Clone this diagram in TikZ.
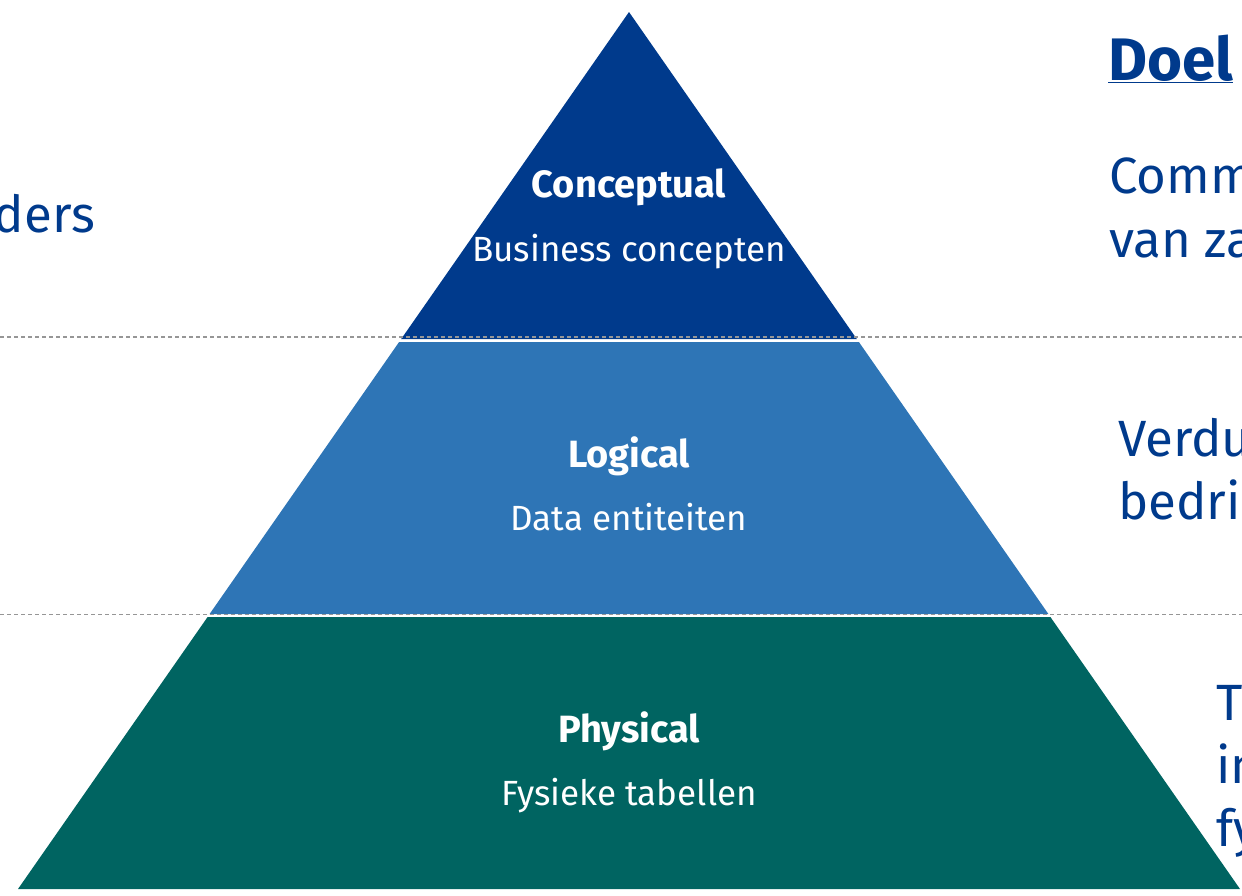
\documentclass[tikz,border=0pt]{standalone}
\usepackage{fontspec}
\setmainfont{Fira Sans}
\definecolor{conceptblue}{RGB}{0,58,140}
\definecolor{logicblue}{RGB}{46,117,182}
\definecolor{physgreen}{RGB}{0,100,97}
\definecolor{levelgray}{RGB}{150,150,150}
\begin{document}
\begin{tikzpicture}[x=1pt,y=-1pt,
	tier title/.style = {text=white, inner sep=0pt, anchor=base, font=\fontsize{38}{44}\selectfont\bfseries},
	tier sub/.style = {text=white, inner sep=0pt, anchor=base, font=\fontsize{35}{42}\selectfont},
	side text/.style = {text=conceptblue, inner sep=0pt, anchor=base west, font=\fontsize{51}{63}\selectfont},
	level line/.style = {levelgray, line width=1.2pt, dash pattern=on 4pt off 3pt}]
	
	\useasboundingbox (0,0) rectangle (1242,895);
	\clip (0,0) rectangle (1242,895);
	
	% pyramid
	\fill[conceptblue] (629,12) -- (856.8,339) -- (401.2,339) -- cycle;
	\fill[logicblue] (399.1,342) -- (858.9,342) -- (1048.4,614) -- (209.6,614) -- cycle;
	\fill[physgreen] (207.6,617) -- (1050.4,617) -- (1240,889) -- (18,889) -- cycle;
	
	% level lines
	\coordinate (l1a) at (0,337);
	\coordinate (l1b) at (1242,337);
	\coordinate (l2a) at (0,614.5);
	\coordinate (l2b) at (1242,614.5);
	\draw[level line] (l1a) -- (l1b);
	\draw[level line] (l2a) -- (l2b);
	
	\node[tier title] (concept) at (629,197) {Conceptual};
	\node[tier sub] (conceptsub) at (629,261) {Business concepten};
	\node[tier title] (logic) at (629,467) {Logical};
	\node[tier sub] (logicsub) at (629,530) {Data entiteiten};
	\node[tier title] (phys) at (629,742) {Physical};
	\node[tier sub] (physsub) at (629,805) {Fysieke tabellen};
	
	\node[side text, anchor=base east] (left1) at (95,232) {ders};
	\node[side text, font=\fontsize{60}{63}\selectfont\bfseries] (doel) at (1108,80) {\underline{Doel}};
	\node[side text] (right1a) at (1109,193) {Comm};
	\node[side text] (right1b) at (1109,257) {van za};
	\node[side text] (right2a) at (1118,456) {Verdu};
	\node[side text] (right2b) at (1118,519) {bedri};
	\node[side text] (right3a) at (1216,720) {T};
	\node[side text] (right3b) at (1216,783) {in};
	\node[side text] (right3c) at (1216,846) {fy};
	
	\end{tikzpicture}
\end{document}
